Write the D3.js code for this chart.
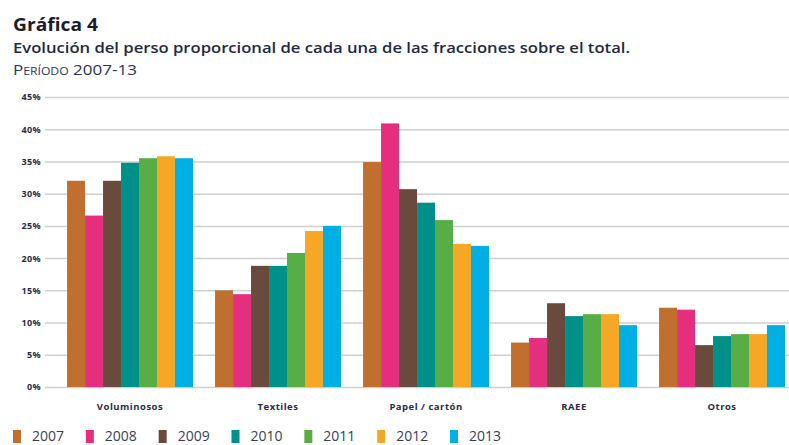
<!DOCTYPE html>
<html><head><meta charset="utf-8">
<script src="https://cdn.jsdelivr.net/npm/d3@7/dist/d3.min.js"></script>
<style>body{margin:0;background:#fff;} svg{display:block;font-family:"Open Sans",sans-serif;}</style>
</head><body>
<svg id="c" width="789" height="445"></svg>
<script>
const categories = ["Voluminosos","Textiles","Papel / cartón","RAEE","Otros"];
const years = ["2007","2008","2009","2010","2011","2012","2013"];
const colors = ["#c06f2e","#e52f7e","#6a4a3d","#00908a","#57ad46","#f5a725","#00b0e5"];
const values = {
  "2007":[32.0,15.0,34.9,6.9,12.3],
  "2008":[26.6,14.4,40.9,7.6,12.0],
  "2009":[32.0,18.8,30.7,13.0,6.5],
  "2010":[34.8,18.8,28.6,11.0,7.9],
  "2011":[35.5,20.8,25.9,11.3,8.2],
  "2012":[35.8,24.2,22.2,11.3,8.2],
  "2013":[35.5,25.0,21.9,9.6,9.6]
};
const yTicks = [0,5,10,15,20,25,30,35,40,45];

const svg = d3.select("#c");
const mLeft = 45, mRight = 789, mTop = 97, mBottom = 387;
const y = d3.scaleLinear().domain([0,45]).range([mBottom, mTop]);
const step = 148;
const x0 = d3.scaleBand().domain(categories).range([mLeft, mLeft + step*(categories.length - 0.149 + 2*0.149)]).paddingInner(0.149).paddingOuter(0.149);
const x1 = d3.scaleBand().domain(years).range([0, x0.bandwidth()]).padding(0);

// title
svg.append("text").attr("x",13).attr("y",31).attr("font-size",17).attr("font-weight",700).attr("fill","#1c1c2a")
  .attr("textLength",85).attr("lengthAdjust","spacingAndGlyphs").text("Gráfica 4");
svg.append("text").attr("x",13).attr("y",53).attr("font-size",14.5).attr("font-weight",600).attr("fill","#1e2a44")
  .attr("textLength",617).attr("lengthAdjust","spacingAndGlyphs").text("Evolución del perso proporcional de cada una de las fracciones sobre el total.");
svg.append("text").attr("x",13).attr("y",75).attr("font-size",14).attr("fill","#2a3556").style("font-variant","small-caps")
  .attr("textLength",124).attr("lengthAdjust","spacingAndGlyphs").text("Período 2007-13");

// grid
const yAxis = d3.axisLeft(y).tickValues(yTicks).tickSize(-(mRight-mLeft)).tickFormat(d => d + "%");
const ga = svg.append("g").attr("transform",`translate(${mLeft},0)`).call(yAxis);
ga.select(".domain").remove();
ga.selectAll(".tick line").attr("stroke","#cfcfcf").attr("stroke-width",1.5);
ga.selectAll(".tick text").attr("x",-4).attr("font-size",9).attr("font-weight",700).attr("letter-spacing",0.4).attr("fill","#2b2b45").attr("font-family","'Open Sans',sans-serif");

// bars
const groups = svg.append("g").selectAll("g").data(categories).join("g")
  .attr("transform", d => `translate(${x0(d)},0)`);
groups.selectAll("rect").data((c,i) => years.map((yr,j) => ({yr, v: values[yr][i], j})))
  .join("rect")
  .attr("x", d => x1(d.yr)).attr("width", x1.bandwidth())
  .attr("y", d => y(d.v)).attr("height", d => y(0) - y(d.v))
  .attr("fill", d => colors[d.j]);

// category labels
const xAxis = d3.axisBottom(x0).tickSize(0).tickPadding(0);
const gx = svg.append("g").attr("transform",`translate(0,${mBottom})`).call(xAxis);
gx.select(".domain").remove();
gx.selectAll(".tick text").attr("y",20).attr("dy","0.32em").attr("font-size",9.5).attr("font-weight",700).attr("letter-spacing",0.5).attr("fill","#2b2b45").attr("font-family","'Open Sans',sans-serif");

// legend
const lx = d3.scaleLinear().domain([0, years.length-1]).range([13, 450]);
const lg = svg.append("g").selectAll("g").data(years).join("g")
  .attr("transform",(d,i)=>`translate(${lx(i)},430)`);
lg.append("rect").attr("width",8).attr("height",13).attr("fill",(d,i)=>colors[i]);
lg.append("text").attr("x",19).attr("y",11).attr("font-size",14).attr("fill","#3a3f55").text(d=>d);
</script>
</body></html>
